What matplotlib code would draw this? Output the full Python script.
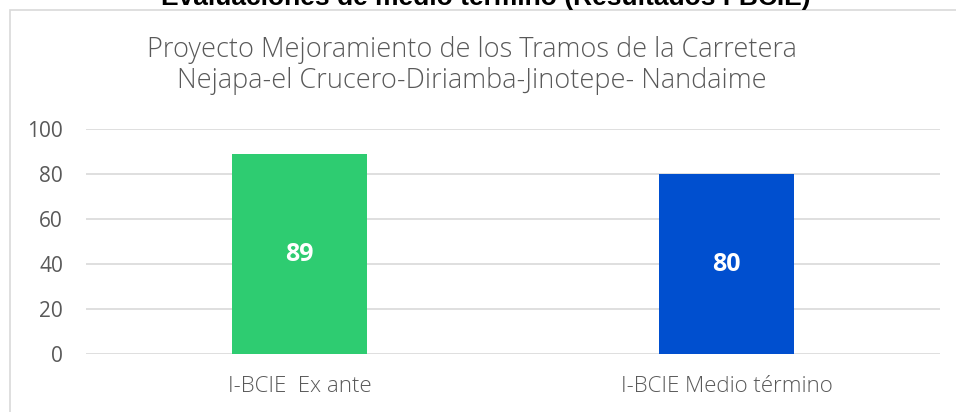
import matplotlib.pyplot as plt
from matplotlib.patches import Rectangle

categories = ['I-BCIE  Ex ante', 'I-BCIE Medio término']
values = [89, 80]
bar_colors = ['#2ECC71', '#004FCF']
yticks = [0, 20, 40, 60, 80, 100]

W, H = 956, 412
fig = plt.figure(figsize=(W / 100, H / 100), dpi=100)

# chart frame (right/bottom run off the picture)
fig.patches.append(Rectangle((9.5 / W, 0 - 0.05), 1.1, 1 - 9.5 / H + 0.05,
                             transform=fig.transFigure, fill=False,
                             edgecolor='#D9D9D9', linewidth=1.2))

ax = fig.add_axes([86 / W, (H - 354) / H, (940 - 86) / W, (354 - 129.5) / H])
x = range(len(categories))
bars = ax.bar(x, values, width=0.314, color=bar_colors, zorder=3)
ax.set_xlim(-0.5, len(categories) - 0.5)
ax.set_ylim(0, 100)
ax.set_yticks(yticks)
ax.set_xticks(list(x))
ax.set_xticklabels(categories)
ax.grid(axis='y', color='#D9D9D9', linewidth=1.2, zorder=0)
for s in ax.spines.values():
    s.set_visible(False)
ax.tick_params(length=0, labelcolor='#595959')
ax.tick_params(axis='y', pad=16.5, labelsize=15)
ax.tick_params(axis='x', pad=15.5, labelsize=16)
for lab in ax.get_xticklabels():
    lab.set_family('Open Sans')
    lab.set_fontweight('light')
for lab in ax.get_yticklabels():
    lab.set_family('Open Sans')

for b, v in zip(bars, values):
    ax.text(b.get_x() + b.get_width() / 2, v / 2, str(v), ha='center', va='center',
            color='white', fontsize=18, fontweight='bold', family='Open Sans', zorder=4)

fig.text(472 / W, 1 - 57 / H, 'Proyecto Mejoramiento de los Tramos de la Carretera',
         ha='center', va='baseline', fontsize=19.5, color='#595959',
         family='Open Sans', fontweight='light')
fig.text(472 / W, 1 - 88 / H, 'Nejapa-el Crucero-Diriamba-Jinotepe- Nandaime',
         ha='center', va='baseline', fontsize=19.5, color='#595959',
         family='Open Sans', fontweight='light')

# top heading, cut off by the picture edge
fig.text(486 / W, 1 - 5 / H, 'Evaluaciones de medio término (Resultados I-BCIE)',
         ha='center', va='baseline', fontsize=19, color='black',
         family='Liberation Sans', fontweight='bold')

fig.savefig('out.png', dpi=100)
